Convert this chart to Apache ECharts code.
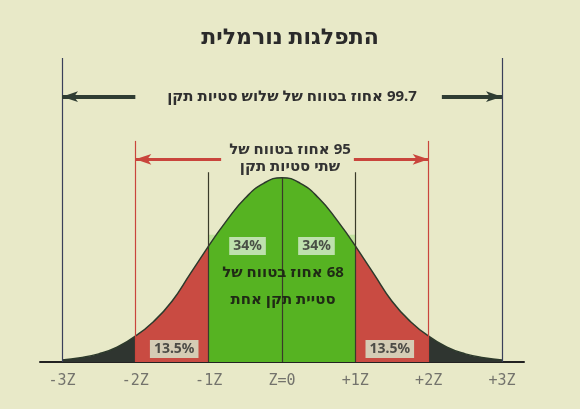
<!DOCTYPE html>
<html dir="rtl">
<head>
<meta charset="utf-8">
<script src="https://cdn.jsdelivr.net/npm/echarts@6/dist/echarts.min.js"></script>
<style>
  html, body { margin: 0; padding: 0; background: #e8e9c8; }
  #main { width: 580px; height: 409px; }
</style>
</head>
<body>
<div id="main"></div>
<script>
// ערכי העקומה (גובה יחסי) לפי קריאה מהתמונה
var xs = [-3, -2.75, -2.5, -2.25, -2, -1.75, -1.5, -1.25, -1, -0.75, -0.5, -0.25, 0,
          0.25, 0.5, 0.75, 1, 1.25, 1.5, 1.75, 2, 2.25, 2.5, 2.75, 3];
var ys = [0.011, 0.023, 0.044, 0.08, 0.14, 0.22, 0.33, 0.48, 0.63, 0.77, 0.89, 0.97, 1,
          0.97, 0.89, 0.77, 0.63, 0.48, 0.33, 0.22, 0.14, 0.08, 0.044, 0.023, 0.011];
var tickLabels = {'-3': '-3Z', '-2': '-2Z', '-1': '-1Z', '0': 'Z=0', '1': '+1Z', '2': '+2Z', '3': '+3Z'};
var pctLabels = ['34%', '34%', '13.5%', '13.5%'];

function segment(a, b) {
  var out = [];
  for (var i = 0; i < xs.length; i++) {
    if (xs[i] >= a && xs[i] <= b) out.push([xs[i], ys[i]]);
  }
  return out;
}

var font = '"Noto Sans", "DejaVu Sans", sans-serif';
var chart = echarts.init(document.getElementById('main'));

function area(name, data, color) {
  return {
    name: name, type: 'line', data: data, symbol: 'none', smooth: true,
    lineStyle: { color: '#2d3a2c', width: 1.5 },
    areaStyle: { color: color, opacity: 1 },
    z: 2
  };
}

var lines = {
  type: 'line', data: [], symbol: 'none', z: 3,
  markLine: {
    silent: true, symbol: 'none', label: { show: false },
    data: [
      [{ coord: [-3, 0], lineStyle: { color: '#3a3f5a', width: 1.2, type: 'solid' } }, { coord: [-3, 1.65] }],
      [{ coord: [3, 0], lineStyle: { color: '#3a3f5a', width: 1.2, type: 'solid' } }, { coord: [3, 1.65] }],
      [{ coord: [-2, 0], lineStyle: { color: '#c9453c', width: 1.2, type: 'solid' } }, { coord: [-2, 1.2] }],
      [{ coord: [2, 0], lineStyle: { color: '#c9453c', width: 1.2, type: 'solid' } }, { coord: [2, 1.2] }],
      [{ coord: [-1, 0], lineStyle: { color: '#3a3a2a', width: 1.2, type: 'solid' } }, { coord: [-1, 1.03] }],
      [{ coord: [1, 0], lineStyle: { color: '#3a3a2a', width: 1.2, type: 'solid' } }, { coord: [1, 1.03] }],
      [{ coord: [0, 0], lineStyle: { color: '#3a3a2a', width: 1.2, type: 'solid' } }, { coord: [0, 1] }],
      [{ coord: [-3, 1.44], symbol: 'arrow', lineStyle: { color: '#2f3d33', width: 4, type: 'solid' } }, { coord: [-2, 1.44], symbol: 'none' }],
      [{ coord: [2.18, 1.44], symbol: 'none', lineStyle: { color: '#2f3d33', width: 4, type: 'solid' } }, { coord: [3, 1.44], symbol: 'arrow' }],
      [{ coord: [-2, 1.1], symbol: 'arrow', lineStyle: { color: '#c9453c', width: 3, type: 'solid' } }, { coord: [-0.83, 1.1], symbol: 'none' }],
      [{ coord: [0.98, 1.1], symbol: 'none', lineStyle: { color: '#c9453c', width: 3, type: 'solid' } }, { coord: [2, 1.1], symbol: 'arrow' }]
    ]
  },
  markArea: {
    silent: true,
    data: [[{ coord: [-1, 0], itemStyle: { color: 'rgba(150,220,110,0.45)' } }, { coord: [1, 0.69] }]]
  }
};

var boxLabel = {
  show: true, color: '#2a2a2a', fontSize: 14, fontWeight: 'bold', fontFamily: font,
  backgroundColor: '#d8ecd2', padding: [2, 4], formatter: '{b}', position: 'inside'
};
var labels = {
  type: 'scatter', symbolSize: 0, z: 5,
  data: [
    { name: pctLabels[0], value: [-0.47, 0.63] },
    { name: pctLabels[1], value: [0.47, 0.63] },
    { name: pctLabels[2], value: [-1.47, 0.07] },
    { name: pctLabels[3], value: [1.47, 0.07] }
  ],
  label: boxLabel
};

chart.setOption({
  backgroundColor: '#e8e9c8',
  animation: false,
  title: {
    text: 'התפלגות נורמלית', left: 'center', top: 22,
    textStyle: { fontSize: 22, fontWeight: 'bold', color: '#2a2a2a', fontFamily: font }
  },
  grid: { left: 40, right: 56, top: 58, bottom: 47 },
  xAxis: {
    type: 'value', min: -3.3, max: 3.3, interval: 1.1,
    axisLine: { lineStyle: { color: '#222', width: 2 } },
    axisTick: { show: false }, splitLine: { show: false },
    axisLabel: { show: false }
  },
  yAxis: { type: 'value', min: 0, max: 1.65, show: false },
  graphic: [
    { type: 'text', x: 292, y: 97, style: { text: '99.7 אחוז בטווח של שלוש סטיות תקן', align: 'center', verticalAlign: 'middle', fill: '#2f2f2f', font: 'bold 15px ' + font } },
    { type: 'text', x: 290, y: 158, style: { text: '95 אחוז בטווח של\nשתי סטיות תקן', align: 'center', verticalAlign: 'middle', lineHeight: 17, fill: '#333', font: 'bold 15px ' + font } },
    { type: 'text', x: 283, y: 286, z: 10, style: { text: '68 אחוז בטווח של\nסטיית תקן אחת', align: 'center', verticalAlign: 'middle', lineHeight: 27, fill: '#1f2a15', font: 'bold 15px ' + font } }
  ],
  series: [
    area('left3', segment(-3, -2), '#2f3530'),
    area('left2', segment(-2, -1), '#c94b42'),
    area('mid', segment(-1, 1), '#56b322'),
    area('right2', segment(1, 2), '#c94b42'),
    area('right3', segment(2, 3), '#2f3530'),
    lines,
    labels,
    {
      // תוויות ציר X
      type: 'scatter', symbolSize: 0, z: 5,
      data: Object.keys(tickLabels).map(function (k) { return { name: tickLabels[k], value: [Number(k), 0] }; }),
      label: {
        show: true, position: 'bottom', distance: 12, formatter: function (p) { return '\u200E' + p.name + '\u200E'; },
        color: '#555', fontSize: 15, fontFamily: '"DejaVu Sans Mono", monospace'
      }
    }
  ]
});
</script>
</body>
</html>
